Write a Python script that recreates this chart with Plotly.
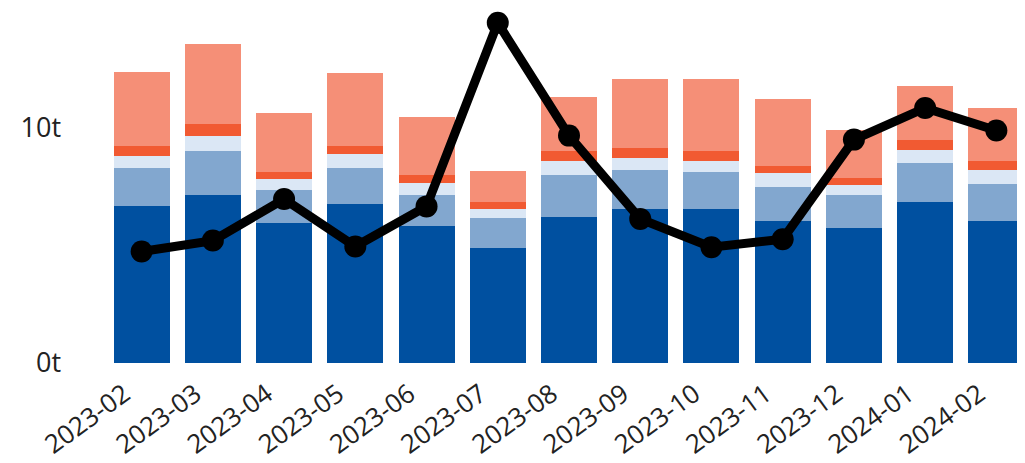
import plotly.graph_objects as go

months = ["2023-02", "2023-03", "2023-04", "2023-05", "2023-06", "2023-07", "2023-08",
          "2023-09", "2023-10", "2023-11", "2023-12", "2024-01", "2024-02"]
dark_blue = [6.64, 7.13, 5.93, 6.74, 5.79, 4.87, 6.21, 6.53, 6.53, 6.03, 5.72, 6.81, 6.04]
mid_blue = [1.63, 1.87, 1.41, 1.53, 1.35, 1.27, 1.74, 1.64, 1.55, 1.43, 1.41, 1.67, 1.55]
pale_blue = [0.49, 0.64, 0.47, 0.57, 0.50, 0.38, 0.62, 0.53, 0.50, 0.59, 0.42, 0.57, 0.58]
orange = [0.42, 0.50, 0.28, 0.38, 0.35, 0.32, 0.40, 0.40, 0.40, 0.32, 0.31, 0.42, 0.41]
salmon = [3.14, 3.37, 2.51, 3.09, 2.43, 1.30, 2.31, 2.93, 3.04, 2.82, 2.03, 2.26, 2.24]
line_vals = [4.73, 5.19, 6.95, 4.94, 6.64, 14.42, 9.64, 6.11, 4.91, 5.25, 9.47, 10.81, 9.86]
y_ticks = [0, 10]
y_tick_text = ["0t", "10t"]

series = [
    (dark_blue, "#0050a0"),
    (mid_blue, "#82a7cf"),
    (pale_blue, "#dbe7f5"),
    (orange, "#f15a32"),
    (salmon, "#f58f77"),
]

xpos = list(range(len(months)))
label_shift = 0.24

fig = go.Figure()
for vals, col in series:
    fig.add_trace(go.Bar(x=xpos, y=vals, marker=dict(color=col, line=dict(width=0)),
                         showlegend=False, hoverinfo="skip"))
fig.add_trace(go.Scatter(x=xpos, y=line_vals, mode="lines+markers",
                         line=dict(color="black", width=9),
                         marker=dict(color="black", size=22),
                         showlegend=False))

fig.update_layout(
    width=1025, height=463,
    margin=dict(l=98, r=1, t=0, b=108),
    barmode="stack", bargap=0.213,
    plot_bgcolor="white", paper_bgcolor="white",
    font=dict(family="Open Sans", size=26, color="#222222"),
    xaxis=dict(range=[-0.5, 12.5], tickangle=-36,
               tickmode="array", tickvals=[p - label_shift for p in xpos], ticktext=months,
               ticklabelstandoff=10,
               showgrid=False, zeroline=False, showline=False, ticks=""),
    yaxis=dict(range=[0, 15.05], tickmode="array", tickvals=y_ticks, ticktext=y_tick_text,
               showgrid=False, zeroline=False, showline=False, ticks="",
               ticklabelstandoff=44, tickfont=dict(size=27)),
)
fig.write_html("out.html")
